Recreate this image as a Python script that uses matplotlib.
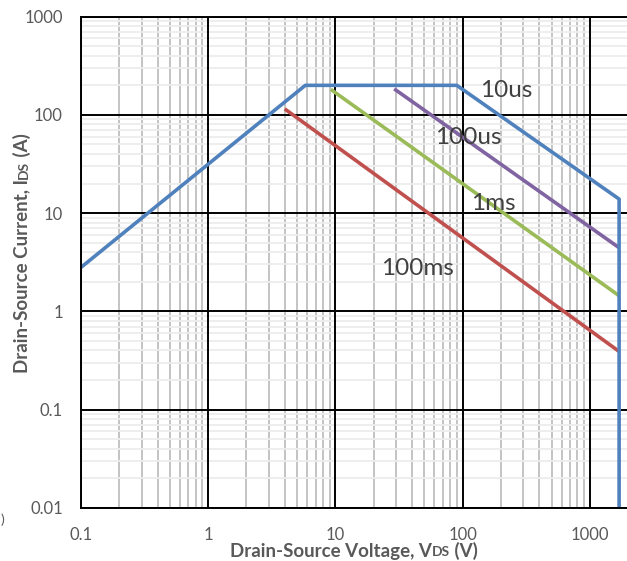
import matplotlib
matplotlib.use("Agg")
import matplotlib.pyplot as plt
from matplotlib.ticker import LogLocator, NullFormatter, FixedLocator

plt.rcParams['font.family'] = ['Lato', 'DejaVu Sans']

# ---- data ----
blue_v = [0.1, 5.8, 90, 1700, 1700]
blue_i = [2.8, 200, 200, 13.9, 0.01]
red_v = [4.0, 1700]
red_i = [115, 0.39]
green_v = [9.2, 1700]
green_i = [182, 1.44]
purple_v = [29, 1700]
purple_i = [184, 4.44]

labels = ["10us", "100us", "1ms", "100ms"]
label_v = [137, 61, 116, 23]
label_i = [153, 50.6, 10.7, 2.34]

x_ticks = [0.1, 1, 10, 100, 1000]
x_ticklabels = ["0.1", "1", "10", "100", "1000"]
y_ticks = [0.01, 0.1, 1, 10, 100, 1000]
y_ticklabels = ["0.01", "0.1", "1", "10", "100", "1000"]

W, H = 627, 561
fig = plt.figure(figsize=(W / 100, H / 100), dpi=100)
left, right, top, bottom = 81, 640, 16.7, 507.7
ax = fig.add_axes([left / W, 1 - bottom / H, (right - left) / W, (bottom - top) / H])
ax.set_xscale('log')
ax.set_yscale('log')
px_per_dec = 127.2
ax.set_xlim(0.1, 10 ** (-1 + (right - left) / px_per_dec))
ax.set_ylim(0.01, 1000)

ax.xaxis.set_major_locator(FixedLocator(x_ticks))
ax.yaxis.set_major_locator(FixedLocator(y_ticks))
ax.set_xticklabels(x_ticklabels)
ax.set_yticklabels(y_ticklabels)
ax.xaxis.set_minor_locator(LogLocator(base=10, subs=range(2, 10), numticks=20))
ax.yaxis.set_minor_locator(LogLocator(base=10, subs=range(2, 10), numticks=20))
ax.xaxis.set_minor_formatter(NullFormatter())
ax.yaxis.set_minor_formatter(NullFormatter())
ax.tick_params(which='both', length=0)
ax.tick_params(axis='x', pad=14, labelsize=12, labelcolor='#595959')
ax.tick_params(axis='y', pad=13, labelsize=12, labelcolor='#595959')

ax.grid(True, which='minor', axis='y', color='#EDEDED', lw=1.3)
ax.grid(True, which='minor', axis='x', color='#BFBFBF', lw=1.3)
ax.grid(False, which='major')
ax.set_axisbelow(True)
for xv in x_ticks:
    ax.axvline(xv, color='black', lw=1.4, zorder=0.8)
for yv in y_ticks:
    ax.axhline(yv, color='black', lw=1.4, zorder=0.8)
for s in ax.spines.values():
    s.set_color('black')
    s.set_linewidth(1.4)

lw = 2.6
ax.plot(red_v, red_i, color='#C0504D', lw=lw, solid_capstyle='butt')
ax.plot(green_v, green_i, color='#9BBB59', lw=lw, solid_capstyle='butt')
ax.plot(purple_v, purple_i, color='#8064A2', lw=lw, solid_capstyle='butt')
ax.plot(blue_v, blue_i, color='#4F81BD', lw=lw, solid_capstyle='butt', clip_on=False)

for t, v, i in zip(labels, label_v, label_i):
    ax.text(v, i, t, fontsize=17.5, color='#404040', ha='left', va='baseline')

# axis labels with small "DS"
fig.canvas.draw()
r = fig.canvas.get_renderer()
lab_color = '#595959'

def hlabel(parts, cx, cy):
    arts = []
    for txt, size in parts:
        arts.append(fig.text(0, 0, txt, fontsize=size, fontweight='bold', color=lab_color,
                             ha='left', va='baseline', transform=None))
    widths = [a.get_window_extent(r).width for a in arts]
    total = sum(widths)
    x = cx - total / 2
    for a, w in zip(arts, widths):
        a.set_position((x, cy))
        x += w

def vlabel(parts, cx, cy):
    arts = []
    for txt, size in parts:
        arts.append(fig.text(0, 0, txt, fontsize=size, fontweight='bold', color=lab_color,
                             ha='left', va='baseline', rotation=90, rotation_mode='anchor',
                             transform=None))
    heights = [a.get_window_extent(r).height for a in arts]
    total = sum(heights)
    y = cy - total / 2
    for a, h in zip(arts, heights):
        a.set_position((cx, y))
        y += h

hlabel([("Drain-Source Voltage, V", 13.5), ("DS", 10), (" (V)", 13.5)], 354, H - 556.5)
vlabel([("Drain-Source Current, I", 13.5), ("DS", 10), (" (A)", 13.5)], 27.5, H - 253)

fig.text(0.001, 1 - 520 / H, ")", fontsize=10, color='#595959', ha='left', va='center')

fig.savefig("out.png", dpi=100)
